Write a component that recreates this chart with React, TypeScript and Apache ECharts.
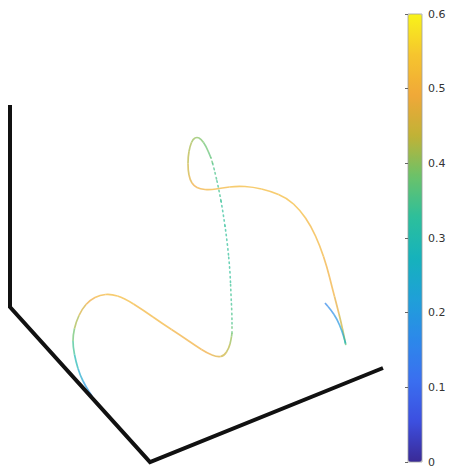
import React, { useEffect, useRef } from "react";
import * as echarts from "echarts";

// Projected 3D curve (screen-space units of the hidden plane), with colour value
const seg1X = [92, 86, 80, 76, 73, 73, 76, 82, 90, 100, 111, 124, 143, 163, 180, 196, 207, 217, 224, 229, 231, 232];
const seg1Y = [396, 387, 375, 362, 347, 335, 322, 309, 300, 295, 294, 298, 310, 324, 335, 346, 353, 357, 356, 348, 340, 333];
const seg1V = [0.17, 0.2, 0.24, 0.29, 0.34, 0.38, 0.42, 0.46, 0.49, 0.51, 0.52, 0.52, 0.51, 0.51, 0.5, 0.5, 0.49, 0.47, 0.45, 0.43, 0.41, 0.39];

const dotX = [232, 232, 231, 230, 227, 223, 219, 214, 211];
const dotY = [333, 315, 295, 270, 240, 212, 190, 168, 158];
const dotV = [0.37, 0.35, 0.34, 0.33, 0.33, 0.33, 0.34, 0.35, 0.37];

const seg2X = [211, 206, 201, 197, 193, 190, 188, 188, 190, 194, 200, 210, 222, 237, 253, 270, 287, 300, 311, 320, 327, 332, 337, 341, 344, 346, 345, 342, 337, 331, 325];
const seg2Y = [158, 146, 139, 137, 139, 146, 157, 170, 180, 186, 189, 190, 188, 186, 187, 191, 198, 210, 226, 246, 267, 287, 306, 322, 336, 346, 341, 331, 319, 310, 303];
const seg2V = [0.37, 0.38, 0.39, 0.4, 0.41, 0.42, 0.43, 0.45, 0.47, 0.49, 0.5, 0.51, 0.51, 0.52, 0.52, 0.52, 0.52, 0.52, 0.51, 0.51, 0.5, 0.5, 0.48, 0.45, 0.42, 0.37, 0.27, 0.22, 0.19, 0.17, 0.16];

// Box axes (projected)
const frameX = [10, 10, 150, 383];
const frameY = [105, 307, 462, 368];

const colorTicks = [0, 0.1, 0.2, 0.3, 0.4, 0.5, 0.6];
const palette = ["#3a2a96", "#3c4fe0", "#3a6ff0", "#2c88ea", "#1fa0d8", "#16b2bc", "#2cbf9c", "#6ac26a", "#c0b236", "#f0a838", "#f6c52e", "#f8f31a"];

function makeRender(xs: number[], ys: number[], dotted: boolean) {
  return (params: any, api: any) => {
    const i = params.dataIndex;
    const n = xs.length;
    const p = (k: number) => api.coord([xs[k], ys[k]]);
    const cur = p(i);
    const mid = (a: number[], b: number[]) => [(a[0] + b[0]) / 2, (a[1] + b[1]) / 2];
    const s = i === 0 ? cur : mid(p(i - 1), cur);
    const e = i === n - 1 ? cur : mid(cur, p(i + 1));
    return {
      type: "bezierCurve",
      shape: { x1: s[0], y1: s[1], x2: e[0], y2: e[1], cpx1: cur[0], cpy1: cur[1] },
      style: {
        stroke: api.visual("color"),
        fill: "none",
        lineWidth: dotted ? 1.6 : 1.7,
        lineDash: dotted ? [1.4, 3.4] : null,
        lineCap: dotted ? "round" : "butt",
        opacity: 0.7,
      },
    };
  };
}

export default function App() {
  const ref = useRef<HTMLDivElement>(null);
  useEffect(() => {
    if (!ref.current) return;
    const chart = echarts.init(ref.current, null, { renderer: "svg" });
    const zip = (xs: number[], ys: number[], vs: number[]) => xs.map((x, i) => [x, ys[i], vs[i]]);
    chart.setOption({
      animation: false,
      backgroundColor: "#ffffff",
      grid: [
        { left: 0, top: 0, right: 0, bottom: 0, show: false },
        { left: 408, top: 14, width: 14, height: 448, show: true, borderColor: "#a0a0a0", borderWidth: 0.8, backgroundColor: "transparent", z: 10 },
      ],
      xAxis: [
        { type: "value", min: 0, max: 449, show: false, gridIndex: 0 },
        { type: "value", min: 0, max: 1, show: false, gridIndex: 1 },
      ],
      yAxis: [
        { type: "value", min: 0, max: 468, inverse: true, show: false, gridIndex: 0 },
        {
          type: "value",
          gridIndex: 1,
          min: 0,
          max: 0.6,
          interval: 0.1,
          position: "right",
          z: 10,
          axisLine: { show: false },
          splitLine: { show: false },
          axisTick: { show: true, inside: true, length: 3, lineStyle: { color: "#666", width: 1 } },
          axisLabel: {
            color: "#333",
            fontSize: 11,
            margin: 6,
            fontFamily: "DejaVu Sans",
            formatter: (v: number) => String(Math.round(v * 10) / 10),
          },
          data: colorTicks,
        },
      ],
      visualMap: {
        type: "continuous",
        min: 0,
        max: 0.6,
        dimension: 2,
        seriesIndex: [1, 2, 3],
        left: 408,
        top: 14,
        itemWidth: 14,
        itemHeight: 448,
        padding: 0,
        calculable: false,
        hoverLink: false,
        text: null,
        showLabel: false,
        inRange: { color: palette },
      },
      series: [
        {
          type: "line",
          xAxisIndex: 0,
          yAxisIndex: 0,
          data: frameX.map((x, i) => [x, frameY[i]]),
          symbol: "none",
          silent: true,
          lineStyle: { color: "#111111", width: 4, join: "miter", cap: "butt" },
        },
        {
          type: "custom",
          xAxisIndex: 0,
          yAxisIndex: 0,
          renderItem: makeRender(seg1X, seg1Y, false),
          data: zip(seg1X, seg1Y, seg1V),
          encode: { x: 0, y: 1 },
          silent: true,
          clip: false,
        },
        {
          type: "custom",
          xAxisIndex: 0,
          yAxisIndex: 0,
          renderItem: makeRender(dotX, dotY, true),
          data: zip(dotX, dotY, dotV),
          encode: { x: 0, y: 1 },
          silent: true,
          clip: false,
        },
        {
          type: "custom",
          xAxisIndex: 0,
          yAxisIndex: 0,
          renderItem: makeRender(seg2X, seg2Y, false),
          data: zip(seg2X, seg2Y, seg2V),
          encode: { x: 0, y: 1 },
          silent: true,
          clip: false,
        },
      ],
    });
    return () => chart.dispose();
  }, []);
  return (
    <div
      ref={ref}
      style={{ position: "absolute", left: 0, top: 0, width: 449, height: 468 }}
    />
  );
}
